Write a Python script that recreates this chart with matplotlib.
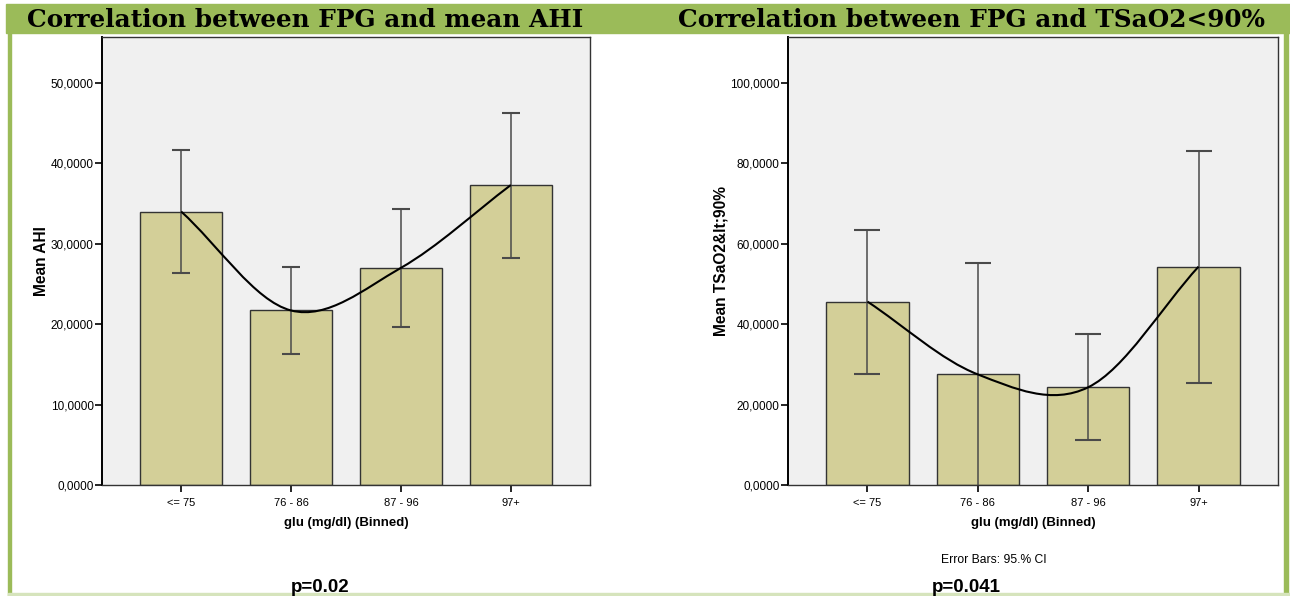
import numpy as np
import matplotlib
matplotlib.use("Agg")
import matplotlib.pyplot as plt
from matplotlib.patches import Rectangle, PathPatch
from matplotlib.path import Path
from matplotlib.ticker import FuncFormatter

# data (means and 95% CI limits)
categories = ["<= 75", "76 - 86", "87 - 96", "97+"]

ahi_mean = [34.0, 21.7, 27.0, 37.3]
ahi_low = [26.3, 16.3, 19.6, 28.2]
ahi_high = [41.6, 27.1, 34.3, 46.3]

tsa_mean = [45.6, 27.5, 24.3, 54.3]
tsa_low = [27.5, -3.0, 11.3, 25.4]
tsa_high = [63.5, 55.1, 37.5, 83.1]

W, H = 1290, 596
BAR_COLOR = "#d3cf98"
BG_COLOR = "#f0f0f0"
GREEN = "#9bbb59"

plt.rcParams["font.family"] = ["Liberation Sans", "DejaVu Sans"]


def px(x0, y0, x1, y1):
    # pixel box (top-left origin) -> figure fraction [left, bottom, width, height]
    return [x0 / W, 1 - y1 / H, (x1 - x0) / W, (y1 - y0) / H]


def smooth_path(xs, ys):
    # Catmull-Rom style curve through the means, as cubic bezier segments
    xs = np.asarray(xs, float)
    ys = np.asarray(ys, float)
    n = len(xs)
    m = np.zeros(n)
    m[0] = ys[1] - ys[0]
    m[-1] = ys[-1] - ys[-2]
    for i in range(1, n - 1):
        m[i] = (ys[i + 1] - ys[i - 1]) / 2
    verts = [(xs[0], ys[0])]
    codes = [Path.MOVETO]
    for i in range(n - 1):
        dx = xs[i + 1] - xs[i]
        verts += [(xs[i] + dx / 3, ys[i] + m[i] / 3),
                  (xs[i + 1] - dx / 3, ys[i + 1] - m[i + 1] / 3),
                  (xs[i + 1], ys[i + 1])]
        codes += [Path.CURVE4] * 3
    return Path(verts, codes)


def draw_panel(ax, means, low, high, ymax, ylabel, capsize):
    x = np.arange(len(categories))
    ax.set_facecolor(BG_COLOR)
    ax.bar(x, means, width=0.745, color=BAR_COLOR, edgecolor="#333333",
           linewidth=1.0, zorder=2)
    means = np.array(means)
    err = [means - np.array(low), np.array(high) - means]
    eb = ax.errorbar(x, means, yerr=err, fmt="none", ecolor="#4a4a4a",
                     elinewidth=1.1, capsize=capsize, capthick=1.5, zorder=3)
    for cap in eb[1]:
        cap.set_color("#222222")
    ax.add_patch(PathPatch(smooth_path(x, means), facecolor="none",
                           edgecolor="black", linewidth=1.5, zorder=4))
    ax.set_xlim(-0.72, 3.72)
    ax.set_ylim(0, ymax)
    ax.set_xticks(x)
    ax.set_xticklabels(categories)
    ax.set_yticks(np.arange(0, ymax, 10 if ymax < 80 else 20))
    ax.yaxis.set_major_formatter(FuncFormatter(lambda v, p: f"{v:.4f}".replace(".", ",")))
    ax.tick_params(direction="out", length=5, width=1.2, labelsize=8.5, colors="black")
    ax.tick_params(axis="y", pad=1)
    ax.tick_params(axis="x", labelsize=8, pad=4)
    for s in ax.spines.values():
        s.set_color("#333333")
        s.set_linewidth(1.0)
    ax.spines["left"].set_color("black")
    ax.spines["left"].set_linewidth(1.4)
    ax.set_xlabel("glu (mg/dl) (Binned)", fontsize=9.5, fontweight="bold", labelpad=7)
    ax.set_ylabel(ylabel, fontsize=11.2, fontweight="bold", labelpad=1)


fig = plt.figure(figsize=(12.9, 5.96), dpi=100)

# green frame
fig.patches.append(Rectangle((6 / W, 1 - 33 / H), 1 - 6 / W, 29 / H,
                             transform=fig.transFigure, color=GREEN, zorder=0))
fig.patches.append(Rectangle((8 / W, 0), 3 / W, 1 - 33 / H,
                             transform=fig.transFigure, color=GREEN, zorder=0))
fig.patches.append(Rectangle((1284 / W, 0), 4 / W, 1 - 33 / H,
                             transform=fig.transFigure, color=GREEN, zorder=0))
fig.patches.append(Rectangle((8 / W, 0), 1 - 8 / W, 3 / H,
                             transform=fig.transFigure, color="#d6e4bc", zorder=0))

ax1 = fig.add_axes(px(102, 37, 590, 485))
draw_panel(ax1, ahi_mean, ahi_low, ahi_high, 55.7, "Mean AHI", 6.5)

ax2 = fig.add_axes(px(788, 37, 1278, 485))
draw_panel(ax2, tsa_mean, tsa_low, tsa_high, 111.4, "Mean TSaO2&lt;90%", 9.5)

title_font = ["DejaVu Serif"]
fig.text(305 / W, 1 - 27 / H, "Correlation between FPG and mean AHI", ha="center",
         va="baseline", fontsize=17.8, fontweight="bold", family=title_font)
fig.text(972 / W, 1 - 27 / H, "Correlation between FPG and TSaO2<90%", ha="center",
         va="baseline", fontsize=17.8, fontweight="bold", family=title_font)

fig.text(994 / W, 1 - 560 / H, "Error Bars: 95.% CI", ha="center", va="center", fontsize=8.7)
fig.text(320 / W, 1 - 587 / H, "p=0.02", ha="center", va="center", fontsize=13.5,
         fontweight="bold")
fig.text(966 / W, 1 - 587 / H, "p=0.041", ha="center", va="center", fontsize=13.5,
         fontweight="bold")

fig.savefig("out.png", dpi=100)
